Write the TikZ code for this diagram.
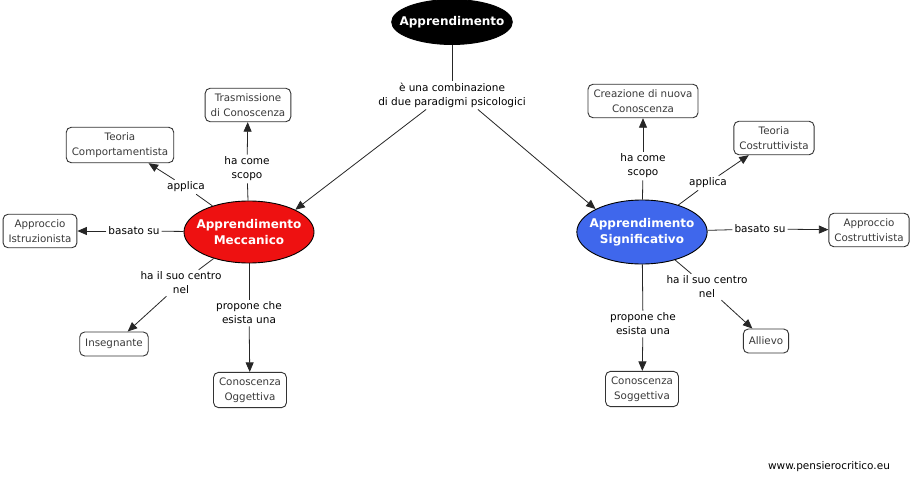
\documentclass[tikz,border=0pt]{standalone}
\usepackage{fontspec}
\setmainfont{DejaVu Sans}
\usetikzlibrary{arrows.meta,shapes.geometric}
\definecolor{boxtext}{HTML}{3A3A3A}
\definecolor{boxline}{HTML}{333333}
\definecolor{mred}{HTML}{EE1111}
\definecolor{mblue}{HTML}{3F67EC}
\begin{document}
\begin{tikzpicture}[x=1pt,y=-1pt,
  concept/.style={draw=boxline,line width=0.9pt,rounded corners=5pt,fill=white,
    text=boxtext,align=center,font=\fontsize{10.3}{14.5}\selectfont,inner xsep=5.5pt,inner ysep=5.5pt,minimum height=24pt},
  mainell/.style={ellipse,draw=black,line width=0.9pt,text=white,align=center,
    font=\bfseries\fontsize{12}{16.5}\selectfont,inner ysep=0pt},
  link/.style={align=center,text=black,font=\fontsize{10.5}{14}\selectfont,inner sep=2pt},
  conn/.style={draw=black!85,line width=0.8pt},
  arr/.style={conn,-{Triangle[length=9.5pt,width=8pt]}}
]
\useasboundingbox (0,0) rectangle (913,482);
\fill[white] (0,0) rectangle (913,482);

% main nodes
\node[mainell,fill=black,inner xsep=-9.8pt,minimum height=45pt] (app) at (452,22) {Apprendimento};
\node[mainell,fill=mred,inner xsep=-6.5pt,minimum height=62pt] (mec) at (249,232) {Apprendimento\\Meccanico};
\node[mainell,fill=mblue,inner xsep=-6.4pt,minimum height=64pt] (sig) at (642,232) {Apprendimento\\Significativo};

% concept boxes left
\node[concept] (tras) at (248,105) {Trasmissione\\di Conoscenza};
\node[concept] (tcomp) at (120,145) {Teoria\\Comportamentista};
\node[concept] (aist) at (40,231) {Approccio\\Istruzionista};
\node[concept] (ins) at (114,344) {Insegnante};
\node[concept] (cogg) at (250,390) {Conoscenza\\Oggettiva};

% concept boxes right
\node[concept] (crea) at (643,101) {Creazione di nuova\\Conoscenza};
\node[concept] (tcos) at (774,138) {Teoria\\Costruttivista};
\node[concept] (acos) at (869,230) {Approccio\\Costruttivista};
\node[concept] (all) at (766,341) {Allievo};
\node[concept] (csog) at (642,389) {Conoscenza\\Soggettiva};

% link labels
\node[link] (lcomb) at (452,95) {è una combinazione\\di due paradigmi psicologici};
\node[link] (lscopoL) at (247,169) {ha come\\scopo};
\node[link] (lapplL) at (186,187) {applica};
\node[link] (lbasL) at (134,231) {basato su};
\node[link] (lcentL) at (181,283) {ha il suo centro\\nel};
\node[link] (lpropL) at (249,313) {propone che\\esista una};

\node[link] (lscopoR) at (643,166) {ha come\\scopo};
\node[link] (lapplR) at (708,183) {applica};
\node[link] (lbasR) at (760,229) {basato su};
\node[link] (lcentR) at (707,287) {ha il suo centro\\nel};
\node[link] (lpropR) at (643,324) {propone che\\esista una};

\node[link,text=black] (web) at (829,467) {www.pensierocritico.eu};

% connectors
\draw[conn] (app) -- (lcomb);
\draw[arr] (lcomb.south west) ++(50pt,0) coordinate (cl) (cl) -- (mec.north east);
\draw[arr] (lcomb.south east) ++(-50pt,0) coordinate (cr) (cr) -- (sig.north west);

\draw[conn] (mec) -- (lscopoL);
\draw[arr] (lscopoL) -- (tras);
\draw[conn] (mec) -- (lapplL);
\draw[arr] (lapplL) -- (tcomp);
\draw[conn] (mec) -- (lbasL);
\draw[arr] (lbasL) -- (aist);
\draw[conn] (mec) -- (lcentL);
\draw[arr] (lcentL) -- (ins);
\draw[conn] (mec) -- (lpropL);
\draw[arr] (lpropL) -- (cogg);

\draw[conn] (sig) -- (lscopoR);
\draw[arr] (lscopoR) -- (crea);
\draw[conn] (sig) -- (lapplR);
\draw[arr] (lapplR) -- (tcos);
\draw[conn] (sig) -- (lbasR);
\draw[arr] (lbasR) -- (acos);
\draw[conn] (sig) -- (lcentR);
\draw[arr] (lcentR) -- (all);
\draw[conn] (sig) -- (lpropR);
\draw[arr] (lpropR) -- (csog);
\end{tikzpicture}
\end{document}
